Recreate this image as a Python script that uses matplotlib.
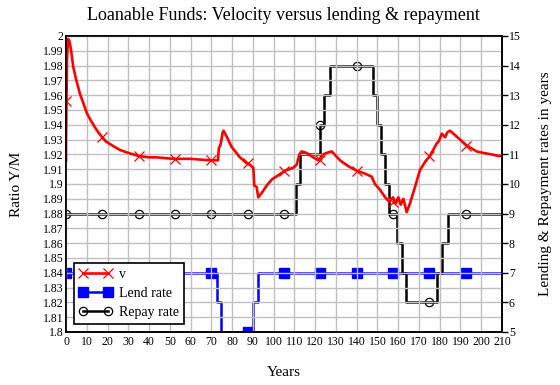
import numpy as np
import matplotlib.pyplot as plt
from matplotlib.lines import Line2D
from matplotlib.ticker import FuncFormatter

plt.rcParams['font.family'] = ['Liberation Serif', 'DejaVu Serif']

# velocity v (left axis)
v_x = [0, 0, 0.5, 1.0, 1.6, 2.5, 3.5, 5, 6.7, 8.5, 10, 11.5, 13.2, 15, 17.2, 19, 21.2, 23.5, 26, 30,
       34.8, 40, 43.7, 51.7, 60, 69.4, 73.2, 73.6, 74.5, 75.5, 75.9, 77.4, 79.8, 83.8, 87, 88.6, 90.2,
       90.7, 91.8, 92.6, 94.3, 96.7, 99.1, 102.3, 105.5, 109.5, 111.1, 112.4, 113.5, 115.9, 119.1, 121.5,
       123.9, 125.5, 128, 132, 136, 140, 144, 147.2, 148.8, 151.3, 153.7, 155.7, 157.5, 158.8, 160.1,
       161.2, 162.5, 164.1, 165.7, 168.1, 170.5, 173, 175.3, 178.6, 179.6, 181, 182.6, 183.7, 185,
       188.2, 193, 197.8, 201, 205, 208.2, 210]
v_y = [1.916, 1.93, 1.985, 1.998, 1.997, 1.990, 1.979, 1.970, 1.961, 1.954, 1.948, 1.944, 1.940, 1.936,
       1.932, 1.929, 1.927, 1.925, 1.923, 1.921, 1.919, 1.918, 1.918, 1.917, 1.917, 1.916, 1.916, 1.924,
       1.927, 1.935, 1.936, 1.932, 1.925, 1.918, 1.914, 1.913, 1.911, 1.899, 1.898, 1.891, 1.894, 1.899,
       1.903, 1.906, 1.909, 1.911, 1.913, 1.920, 1.922, 1.921, 1.918, 1.916, 1.920, 1.921, 1.922, 1.916,
       1.912, 1.909, 1.907, 1.905, 1.900, 1.896, 1.891, 1.888, 1.891, 1.887, 1.891, 1.886, 1.890, 1.881,
       1.887, 1.898, 1.9095, 1.915, 1.919, 1.9275, 1.929, 1.934, 1.9316, 1.935, 1.936, 1.932, 1.926,
       1.922, 1.921, 1.920, 1.919, 1.919]

# lending and repayment rates (right axis), step breakpoints
lend_x = [0, 72.9, 74.7, 90.2, 92.3, 210]
lend_y = [7, 6, 5, 6, 7, 7]
repay_x = [0, 110.6, 112.7, 122.3, 124.3, 127.2, 148, 149.6, 151.6, 153.5, 155.4, 159.2, 161.7, 163.6,
           178.5, 181, 184.2, 210]
repay_y = [9, 10, 11, 12, 13, 14, 13, 12, 11, 10, 9, 8, 7, 6, 7, 8, 9, 9]

# marker points
mark_x = np.arange(0, 210, 17.5)
v_mark = [1.956, 1.932, 1.919, 1.917, 1.916, 1.914, 1.909, 1.916, 1.909, 1.888, 1.919, 1.926]
lend_mark = [7, 7, 7, 7, 7, 5, 7, 7, 7, 7, 7, 7]
repay_mark = [9, 9, 9, 9, 9, 9, 9, 12, 14, 9, 6, 9]

fig = plt.figure(figsize=(5.6, 3.85), dpi=100)
ax = fig.add_axes([66 / 560, 53 / 385, 436 / 560, 296 / 385])
ax2 = ax.twinx()

ax2.plot(lend_x, lend_y, color='#0000ff', lw=1.8, drawstyle='steps-post')
ax2.plot(mark_x, lend_mark, ls='none', marker='s', ms=6.5, color='#0000ff')
ax2.plot(repay_x, repay_y, color='black', lw=1.8, drawstyle='steps-post')
ax2.plot(mark_x, repay_mark, ls='none', marker='o', ms=6, mfc='none', mec='black', mew=0.9)

ax.plot(v_x, v_y, color='#ff0000', lw=1.9)
ax.plot(mark_x, v_mark, ls='none', marker='x', ms=6.5, mew=0.9, color='#ff0000')
ax.set_zorder(ax2.get_zorder() + 1)
ax.patch.set_visible(False)

ax.set_xlim(0, 210)
ax.set_ylim(1.8, 2.0)
ax2.set_ylim(5, 15)
ax.set_xticks(np.arange(0, 211, 10))
ax.set_yticks(np.arange(1.8, 2.0001, 0.01))
ax2.set_yticks(np.arange(5, 16, 1))
ax.yaxis.set_major_formatter(FuncFormatter(lambda val, pos: '%g' % round(val, 2)))
ax.grid(True, color='#c0c0c0', lw=1)
ax.set_axisbelow(True)
for a in (ax, ax2):
    for s in a.spines.values():
        s.set_color('black')
        s.set_linewidth(1.2)
ax.tick_params(axis='y', length=0, pad=2, labelsize=8.5)
ax.tick_params(axis='x', length=0, pad=3, labelsize=8.5)
ax2.tick_params(axis='y', length=4, width=1, pad=1, labelsize=8.5)

fig.text(283 / 560, 1 - 16 / 385, 'Loanable Funds: Velocity versus lending & repayment',
         ha='center', va='center', fontsize=13)
fig.text(284 / 560, 1 - 373 / 385, 'Years', ha='center', va='center', fontsize=11)
fig.text(16 / 560, 1 - 184 / 385, 'Ratio Y/M', ha='center', va='center', rotation=90, fontsize=11)
fig.text(545 / 560, 1 - 184 / 385, 'Lending & Repayment rates in years', ha='center', va='center',
         rotation=90, fontsize=11)

handles = [
    Line2D([], [], color='#ff0000', lw=1.9, marker='x', ms=6.5, mew=0.9),
    Line2D([], [], color='#0000ff', lw=1.8, marker='s', ms=6.5),
    Line2D([], [], color='black', lw=1.8, marker='o', ms=6, mfc='none', mew=0.9),
]
leg = ax.legend(handles, ['v', 'Lend rate', 'Repay rate'], loc='lower left',
                bbox_to_anchor=(0.018, 0.027), borderaxespad=0, fancybox=False, framealpha=1,
                edgecolor='black', numpoints=2, handlelength=2.4, fontsize=10,
                borderpad=0.35, labelspacing=0.45, handletextpad=0.5)
leg.get_frame().set_linewidth(1.2)

fig.savefig('out.png', dpi=100)
